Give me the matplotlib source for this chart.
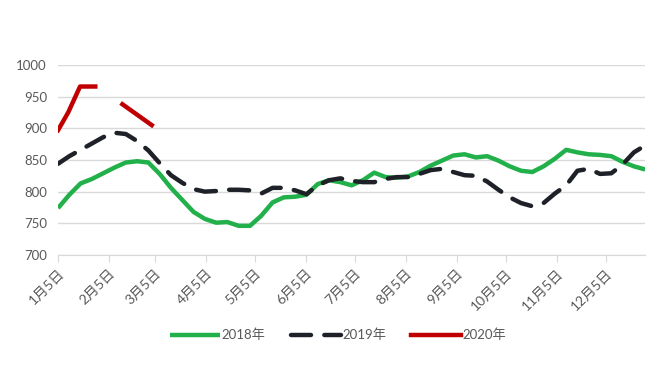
import numpy as np
import matplotlib
matplotlib.use("Agg")
import matplotlib.pyplot as plt

plt.rcParams["font.family"] = ["Lato", "Noto Sans CJK SC", "DejaVu Sans"]

# weekly readings, index 0 = 1月5日
vals_2018 = [774, 795, 813, 820, 829, 838, 846, 848, 846, 828, 806, 787, 768, 757,
             751, 752, 746, 746, 762, 783, 791, 792, 795, 812, 818, 815, 810, 818,
             830, 823, 822, 824, 831, 841, 849, 857, 859, 854, 856, 849, 840, 833,
             831, 840, 852, 866, 862, 859, 858, 856, 847, 840, 835]
vals_2019 = [844, 856, 866, 876, 886, 893, 891, 880, 865, 845, 826, 814, 804, 800,
             801, 803, 803, 802, 797, 806, 806, 802, 796, 810, 818, 821, 817, 815,
             815, 820, 823, 823, 828, 834, 836, 831, 826, 825, 816, 803, 791, 782,
             777, 782, 797, 810, 833, 836, 828, 829, 843, 862, 873]
week_2020 = [0, 0.9, 1.95, 3.3, 4.5, 5.7, 8.3]
vals_2020 = [897, 925, 966, 966, np.nan, 938, 905]

tick_days = [5, 36, 64, 95, 125, 156, 186, 217, 248, 278, 309, 339]
tick_labels = ["1月5日", "2月5日", "3月5日", "4月5日", "5月5日", "6月5日",
               "7月5日", "8月5日", "9月5日", "10月5日", "11月5日", "12月5日"]

days_per_week = 358 / 52  # axis spans Jan 5 .. ~Dec 28 over 52 steps

fig = plt.figure(figsize=(6.7, 3.8), dpi=100)
ax = fig.add_axes([0.0866, 0.329, 0.8764, 0.500])

x = np.arange(len(vals_2018))
ax.plot(x, vals_2018, color="#22b04b", lw=3.2, label="2018年", solid_capstyle="butt")
ax.plot(np.arange(len(vals_2019)), vals_2019, color="#1e2127", lw=3.2,
        dashes=(4.5, 3), label="2019年", dash_capstyle="round")
ax.plot(week_2020, vals_2020, color="#c00000", lw=3.2, label="2020年")

ax.set_ylim(700, 1000)
ax.set_xlim(0, 52)
ax.set_yticks(range(700, 1001, 50))
ax.grid(axis="y", color="#d9d9d9", lw=1.0)
ax.set_axisbelow(True)
for s in ["top", "right", "left"]:
    ax.spines[s].set_visible(False)
ax.spines["bottom"].set_color("#d9d9d9")
ax.tick_params(axis="y", length=0, labelsize=9.5, labelcolor="#595959", pad=8)

ticks = [(d - 5) / days_per_week for d in tick_days]
ax.set_xticks(ticks)
ax.set_xticklabels(tick_labels, rotation=45, ha="right", rotation_mode="anchor")
ax.tick_params(axis="x", length=5, color="#d9d9d9", labelsize=10,
               labelcolor="#595959", pad=4)

leg = ax.legend(loc="center", bbox_to_anchor=(0.505, 0.118), bbox_transform=fig.transFigure,
                ncol=3, frameon=False, fontsize=9.5, handlelength=3.8,
                columnspacing=1.9, handletextpad=0.1)
for t in leg.get_texts():
    t.set_color("#595959")

fig.savefig("out.png", dpi=100)
